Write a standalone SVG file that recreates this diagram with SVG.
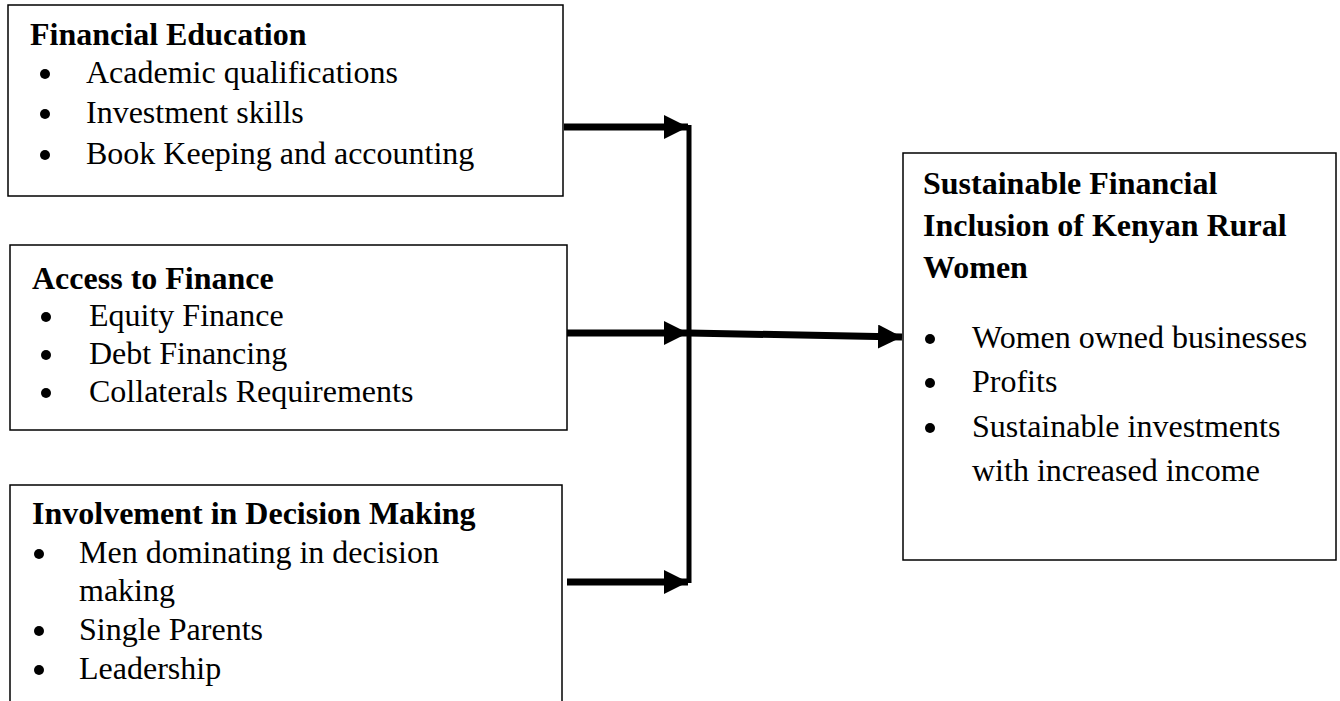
<svg xmlns="http://www.w3.org/2000/svg" width="1340" height="701" viewBox="0 0 1340 701">
<style>
.box{fill:#fff;stroke:#000;stroke-width:1.5}
.t{font-family:"Liberation Serif","Times New Roman",serif;font-size:32px;fill:#000}
.b{font-weight:bold}
.dot{fill:#000}
.conn{stroke:#000;fill:none}
</style>
<defs>
<marker id="ah" markerUnits="userSpaceOnUse" markerWidth="24" markerHeight="24" refX="24" refY="12" orient="auto" viewBox="0 0 24 24">
<path d="M0,0 L24,12 L0,24 Z" fill="#000"/>
</marker>
</defs>
<rect width="1340" height="701" fill="#fff"/>
<g id="financial-education">
<rect class="box" x="8" y="5" width="555" height="191"/>
<text class="t b" x="30" y="45">Financial Education</text>
<circle class="dot" cx="45" cy="74" r="5"/><text class="t" x="86" y="83">Academic qualifications</text>
<circle class="dot" cx="45" cy="114" r="5"/><text class="t" x="86" y="123">Investment skills</text>
<circle class="dot" cx="45" cy="155" r="5"/><text class="t" x="86" y="164">Book Keeping and accounting</text>
</g>
<g id="access-to-finance">
<rect class="box" x="10" y="245" width="557" height="185"/>
<text class="t b" x="32" y="289">Access to Finance</text>
<circle class="dot" cx="46" cy="317" r="5"/><text class="t" x="89" y="326">Equity Finance</text>
<circle class="dot" cx="46" cy="355" r="5"/><text class="t" x="89" y="364">Debt Financing</text>
<circle class="dot" cx="46" cy="393" r="5"/><text class="t" x="89" y="402">Collaterals Requirements</text>
</g>
<g id="decision-making">
<rect class="box" x="10" y="485" width="552" height="230"/>
<text class="t b" x="32" y="524">Involvement in Decision Making</text>
<circle class="dot" cx="39" cy="554" r="5"/><text class="t" x="79" y="563">Men dominating in decision</text>
<text class="t" x="79" y="601">making</text>
<circle class="dot" cx="39" cy="631" r="5"/><text class="t" x="79" y="640">Single Parents</text>
<circle class="dot" cx="39" cy="670" r="5"/><text class="t" x="79" y="679">Leadership</text>
</g>
<g id="financial-inclusion">
<rect class="box" x="903" y="153" width="433" height="407"/>
<text class="t b" x="923" y="194">Sustainable Financial</text>
<text class="t b" x="923" y="236">Inclusion of Kenyan Rural</text>
<text class="t b" x="923" y="278">Women</text>
<circle class="dot" cx="930" cy="339" r="5"/><text class="t" x="972" y="348">Women owned businesses</text>
<circle class="dot" cx="930" cy="383" r="5"/><text class="t" x="972" y="392">Profits</text>
<circle class="dot" cx="930" cy="428" r="5"/><text class="t" x="972" y="437">Sustainable investments</text>
<text class="t" x="972" y="481">with increased income</text>
</g>
<g id="connectors">
<line class="conn" x1="564" y1="127" x2="688" y2="127" stroke-width="7" marker-end="url(#ah)"/>
<line class="conn" x1="567" y1="333" x2="688" y2="333" stroke-width="7" marker-end="url(#ah)"/>
<line class="conn" x1="567" y1="582" x2="688" y2="582" stroke-width="7" marker-end="url(#ah)"/>
<line class="conn" x1="689" y1="125" x2="689" y2="583" stroke-width="5"/>
<line class="conn" x1="689" y1="333" x2="902" y2="337" stroke-width="7" marker-end="url(#ah)"/>
</g>
</svg>
